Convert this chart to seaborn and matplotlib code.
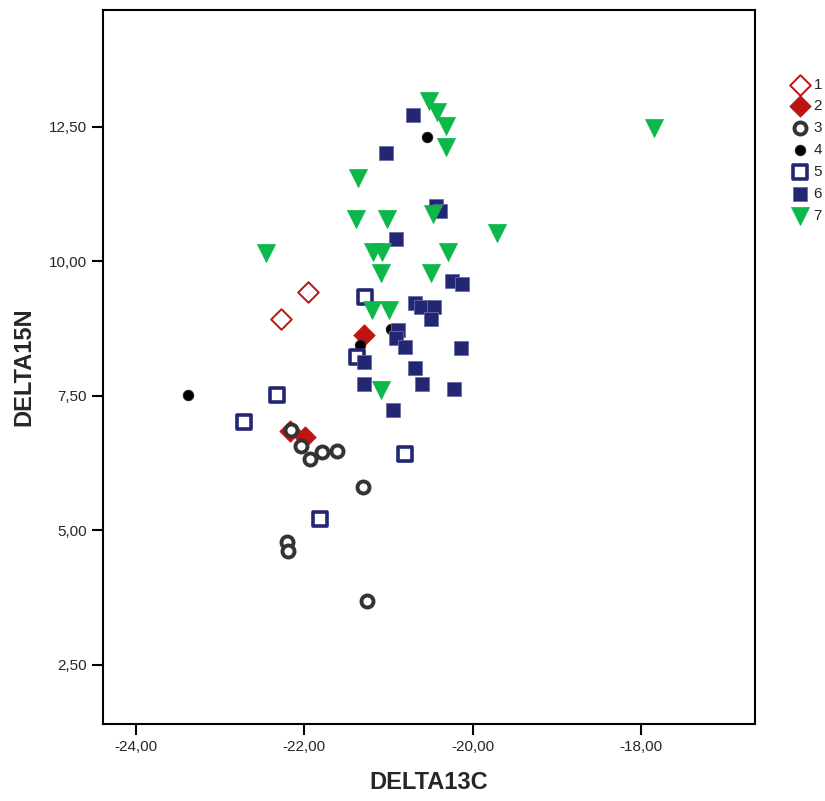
import numpy as np
import pandas as pd
import matplotlib

matplotlib.use("Agg")
import matplotlib.pyplot as plt
import seaborn as sns
from matplotlib.ticker import FuncFormatter

# values, one pair of lists per group
g1_c = [-21.96, -22.28]
g1_n = [9.42, 8.93]
g2_c = [-21.29, -22.17, -21.99]
g2_n = [8.63, 6.84, 6.74]
g3_c = [-22.16, -22.04, -21.93, -21.79, -21.61, -21.30, -22.20, -22.19, -21.26]
g3_n = [6.86, 6.57, 6.32, 6.45, 6.48, 5.81, 4.79, 4.62, 3.68]
g4_c = [-23.38, -21.34, -20.97, -20.54]
g4_n = [7.51, 8.44, 8.75, 12.31]
g5_c = [-21.28, -21.37, -22.32, -22.71, -20.80, -21.81]
g5_n = [9.33, 8.22, 7.52, 7.02, 6.42, 5.21]
g6_c = [-20.71, -21.03, -20.44, -20.39, -20.91, -20.25, -20.13, -20.69, -20.62,
        -20.46, -20.50, -20.89, -20.91, -20.81, -20.14, -21.29, -20.69, -21.29,
        -20.60, -20.22, -20.95]
g6_n = [12.72, 12.02, 11.03, 10.93, 10.42, 9.64, 9.58, 9.22, 9.15,
        9.15, 8.93, 8.73, 8.57, 8.41, 8.39, 8.13, 8.01, 7.72,
        7.72, 7.62, 7.24]
g7_c = [-20.52, -20.42, -20.32, -20.32, -21.36, -21.39, -21.02, -20.47, -19.71,
        -21.19, -21.08, -20.30, -21.09, -20.50, -22.46, -17.85, -21.20, -21.00,
        -21.09]
g7_n = [12.97, 12.77, 12.51, 12.12, 11.54, 10.79, 10.78, 10.88, 10.52,
        10.18, 10.18, 10.18, 9.79, 9.79, 10.16, 12.48, 9.10, 9.10,
        7.60]

groups = ["1", "2", "3", "4", "5", "6", "7"]
xs = [g1_c, g2_c, g3_c, g4_c, g5_c, g6_c, g7_c]
ys = [g1_n, g2_n, g3_n, g4_n, g5_n, g6_n, g7_n]

df = pd.concat(
    [pd.DataFrame({"DELTA13C": x, "DELTA15N": y, "group": g})
     for g, x, y in zip(groups, xs, ys)],
    ignore_index=True,
)

RED = "#BE1414"
NAVY = "#222673"
GREEN = "#0DB84A"
# group -> (marker, face, edge, size, linewidth)
styles = {
    "1": ("D", "white", RED, 110, 1.4),
    "2": ("D", RED, RED, 120, 0.5),
    "3": ("o", "white", "#333333", 75, 2.8),
    "4": ("o", "black", "#222222", 55, 0.8),
    "5": ("s", "white", NAVY, 90, 2.6),
    "6": ("s", NAVY, "#6a6da8", 110, 0.6),
    "7": ("v", GREEN, GREEN, 170, 0.5),
}

sns.set_style("white")
plt.rcParams["font.family"] = ["Liberation Sans", "DejaVu Sans"]

fig = plt.figure(figsize=(8.25, 8.01), dpi=100)
ax = fig.add_axes([0.1248, 0.0961, 0.7904, 0.8914])

for g in groups:
    m, fc, ec, s, lw = styles[g]
    sub = df[df["group"] == g]
    sns.scatterplot(data=sub, x="DELTA13C", y="DELTA15N", marker=m, s=s,
                    color=fc, edgecolor=ec, linewidth=lw, label=g, ax=ax,
                    zorder=3)

ax.set_xlim(-24.39, -16.65)
ax.set_ylim(1.40, 14.67)
ax.set_xticks([-24, -22, -20, -18])
ax.set_yticks([2.5, 5.0, 7.5, 10.0, 12.5])
comma = FuncFormatter(lambda v, _: f"{v:.2f}".replace(".", ","))
ax.xaxis.set_major_formatter(comma)
ax.yaxis.set_major_formatter(comma)
ax.tick_params(axis="both", direction="out", length=8, width=1.5,
               labelsize=11, color="black", bottom=True, left=True)
for sp in ax.spines.values():
    sp.set_linewidth(1.5)
    sp.set_color("black")

ax.set_xlabel("DELTA13C", fontsize=17, fontweight="bold", labelpad=12)
ax.set_ylabel("DELTA15N", fontsize=17, fontweight="bold", labelpad=10)

ax.legend(loc="upper left", bbox_to_anchor=(1.045, 0.914), frameon=False,
          fontsize=11, handletextpad=0.3, labelspacing=0.52,
          borderaxespad=0, handlelength=1.2)

fig.savefig("out.png", dpi=100)
